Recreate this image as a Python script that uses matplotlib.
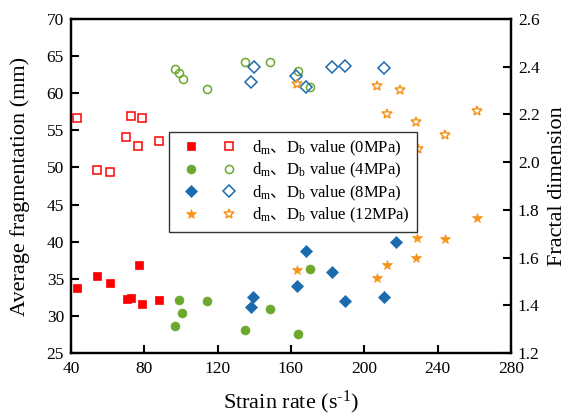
import matplotlib
matplotlib.use("Agg")
import matplotlib.pyplot as plt
from matplotlib.legend_handler import HandlerTuple

plt.rcParams['font.family'] = ['Liberation Serif', 'Noto Sans CJK SC']
plt.rcParams['mathtext.fontset'] = 'custom'
plt.rcParams['mathtext.rm'] = 'Liberation Serif'
plt.rcParams['mathtext.it'] = 'Liberation Serif:italic'
plt.rcParams['mathtext.sf'] = 'Noto Sans CJK SC'

# ---- data ----
x_0 = [43.4, 54.4, 61.3, 70.4, 72.6, 76.9, 78.7, 88.2]
dm_0 = [33.8, 35.4, 34.5, 32.3, 32.4, 36.9, 31.6, 32.2]
x_0o = [43.4, 54.5, 61.3, 70.0, 72.6, 76.7, 78.7, 88.0]
Db_0 = [2.186, 1.968, 1.960, 2.104, 2.193, 2.068, 2.185, 2.089]

x_4 = [96.6, 99.1, 100.7, 114.2, 134.9, 148.7, 163.8, 170.6]
dm_4 = [28.6, 32.1, 30.4, 31.95, 28.1, 30.9, 27.55, 36.3]
x_4o = [96.6, 98.7, 100.9, 114.2, 134.9, 148.7, 163.8, 170.4]
Db_4 = [2.392, 2.372, 2.350, 2.307, 2.421, 2.418, 2.381, 2.314]

x_8 = [138.0, 139.5, 163.1, 168.0, 182.2, 189.5, 210.6, 217.5]
dm_8 = [31.2, 32.6, 34.0, 38.7, 35.9, 32.0, 32.6, 39.9]
x_8o = [138.0, 139.7, 162.9, 168.0, 182.4, 189.7, 210.6]
Db_8 = [2.337, 2.397, 2.361, 2.314, 2.399, 2.403, 2.393]

x_12 = [163.3, 206.9, 212.6, 228.4, 229.0, 244.1, 261.7]
dm_12 = [36.2, 35.05, 36.9, 37.75, 40.44, 40.4, 43.2]
x_12o = [163.3, 206.9, 219.7, 212.6, 228.2, 229.3, 244.1, 261.7]
Db_12 = [2.328, 2.321, 2.302, 2.202, 2.168, 2.055, 2.114, 2.214]

labels = ['0MPa', '4MPa', '8MPa', '12MPa']
x_ticks = [40, 80, 120, 160, 200, 240, 280]
y_ticks = [25, 30, 35, 40, 45, 50, 55, 60, 65, 70]
y2_ticks = [1.2, 1.4, 1.6, 1.8, 2.0, 2.2, 2.4, 2.6]

RED = '#FF0000'
GREEN = '#6CA82C'
BLUE = '#1C6BAE'
ORANGE = '#F7941D'

fig = plt.figure(figsize=(5.81, 4.16), dpi=100)
ax = fig.add_axes([0.122, 0.1514, 0.7575, 0.8029])
ax2 = ax.twinx()

series = [
    (x_0, dm_0, x_0o, Db_0, RED, 's', 5.8, 5.6),
    (x_4, dm_4, x_4o, Db_4, GREEN, 'o', 6.4, 5.8),
    (x_8, dm_8, x_8o, Db_8, BLUE, 'D', 6.4, 6.0),
    (x_12, dm_12, x_12o, Db_12, ORANGE, '*', 7.6, 7.4),
]

handles = []
for (xf, yf, xo, yo, c, m, msf, mso) in series:
    hf, = ax.plot(xf, yf, linestyle='none', marker=m, markersize=msf,
                  color=c, markeredgecolor=c, markeredgewidth=0.5)
    ho, = ax2.plot(xo, yo, linestyle='none', marker=m, markersize=mso,
                   markerfacecolor='none', markeredgecolor=c, markeredgewidth=1.1)
    handles.append((hf, ho))

ax.set_xlim(40, 280)
ax.set_ylim(25, 70)
ax2.set_ylim(1.2, 2.6)
ax.set_xticks(x_ticks)
ax.set_yticks(y_ticks)
ax2.set_yticks(y2_ticks)
ax2.set_yticklabels([f'{v:.1f}' for v in y2_ticks])

for a in (ax, ax2):
    for s in a.spines.values():
        s.set_linewidth(1.6)
ax.tick_params(axis='both', direction='in', length=6, width=1.5, labelsize=12.5,
               top=False, right=False)
ax.tick_params(axis='x', pad=6)
ax.tick_params(axis='y', pad=5)
ax2.tick_params(axis='y', direction='in', length=6, width=1.5, labelsize=12.5,
                left=False, pad=5)

ax.set_xlabel('Strain rate (s$^{\u2010 1}$)', fontsize=16, labelpad=8)
ax.set_ylabel('Average fragmentation (mm)', fontsize=16, labelpad=12)
ax2.set_ylabel('Fractal dimension', fontsize=16, labelpad=6)

leg_labels = ['d$_{\\mathrm{m}}\\mathsf{、}$D$_{\\mathrm{b}}$ value (%s)' % l for l in labels]
leg = ax2.legend(handles, leg_labels, handler_map={tuple: HandlerTuple(ndivide=None, pad=0.5)},
                 loc='upper left', bbox_to_anchor=(0.223, 0.662), borderaxespad=0,
                 fontsize=12, handlelength=4.1, handletextpad=0.5, labelspacing=0.2,
                 borderpad=0.4, fancybox=False, framealpha=1, edgecolor='#333333')
leg.get_frame().set_linewidth(1.0)
leg.set_zorder(10)

fig.savefig('out.png', dpi=100)
